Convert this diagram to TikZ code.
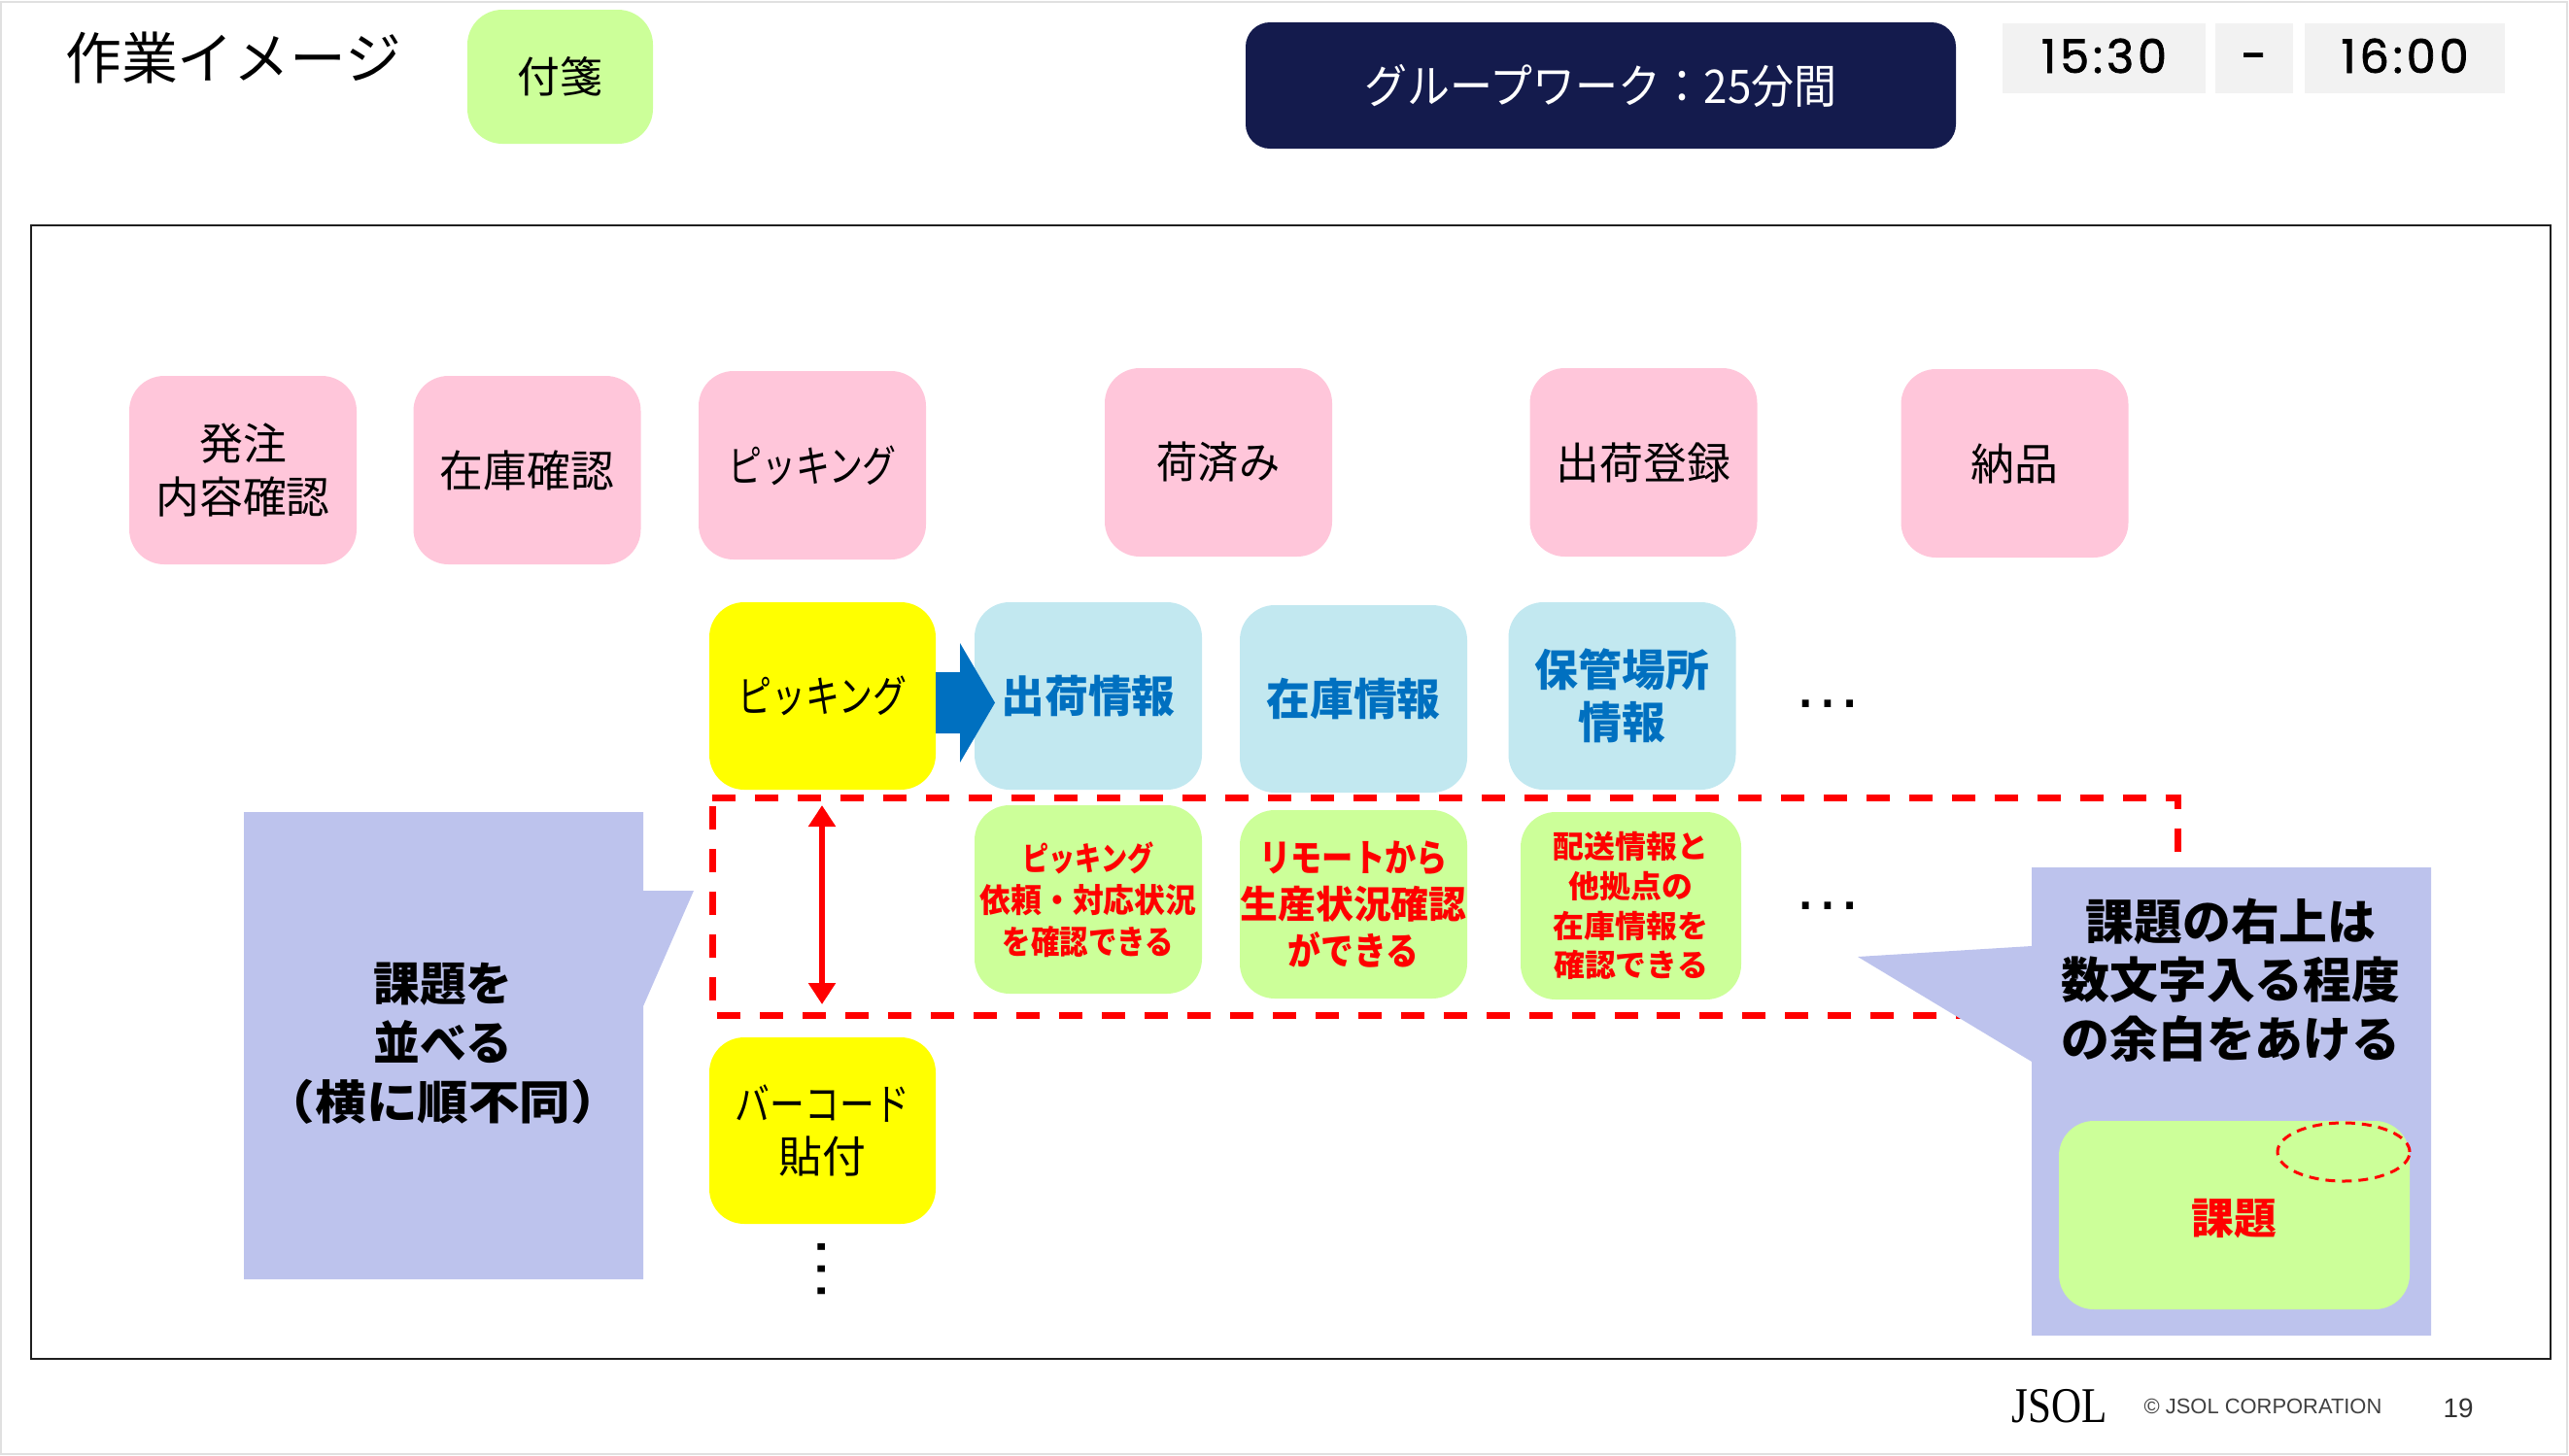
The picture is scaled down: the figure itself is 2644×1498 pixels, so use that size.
\documentclass[tikz,border=0pt]{standalone}
\usepackage{fontspec}
\setmainfont{Noto Sans CJK JP}
\newfontfamily\timefont[LetterSpace=8,FakeBold=1.6]{Poppins}
\newfontfamily\latinsans{Liberation Sans}
\newfontfamily\latinserif{Liberation Serif}
\usetikzlibrary{arrows.meta,shapes.geometric}
\newcommand\fs[2]{\fontsize{\the\dimexpr#1pt*56693/100000\relax}{\the\dimexpr#2pt*56693/100000\relax}\selectfont}
\newcommand\nar[2]{\scalebox{#1}[1]{#2}}
\definecolor{cpink}{HTML}{FFC6DA}
\definecolor{cyel}{HTML}{FFFF00}
\definecolor{cblue}{HTML}{C2E8F0}
\definecolor{cgreen}{HTML}{CCFF99}
\definecolor{cnavy}{HTML}{141B4D}
\definecolor{ctime}{HTML}{F2F2F2}
\definecolor{ccall}{HTML}{BDC3ED}
\definecolor{cdblue}{HTML}{0070C0}
\definecolor{cred}{HTML}{FF0000}
\tikzset{
  sz/.style 2 args={minimum width=#1*0.02cm,minimum height=#2*0.02cm,inner sep=0pt,outer sep=0pt,align=center},
  card/.style={rounded corners=0.72cm,text=black,font=\fs{45}{55}},
  pinkcard/.style={card,fill=cpink,sz={234}{194}},
  yelcard/.style={card,fill=cyel,sz={233}{193}},
  bluecard/.style={card,fill=cblue,sz={234}{193},text=cdblue,font=\fs{45}{54}\bfseries},
  greencard/.style={card,fill=cgreen,sz={234}{194},text=cred},
  timebox/.style={fill=ctime,sz={#1}{72},font=\timefont\fs{48}{50}},
  calltext/.style={inner sep=0pt,align=center,text=black,font=\fs{50}{61}\bfseries},
  dotsrow/.style={inner sep=0pt,text=black,font=\latinsans\fs{72}{72}},
  plain/.style={inner sep=0pt,align=center}
}
\begin{document}
\begin{tikzpicture}[x=0.02cm,y=-0.02cm]
\useasboundingbox (0,0) rectangle (2644,1498);
\draw[black!12,line width=0.05cm] (1,2) rectangle (2642,1497);
% header
\node[plain,text=black,font=\fs{58}{60}] (title) at (240,60) {作業イメージ};
\node[card,fill=cgreen,sz={191}{138}] (legend) at (576.5,79) {\fs{44}{50}付箋};
\node[fill=cnavy,rounded corners=0.5cm,sz={731}{130},text=white,font=\fs{48}{50}] (gw) at (1647.5,88) {\nar{0.92}{グループワーク：25分間}};
\node[timebox=209] (t1) at (2165.5,60) {\raisebox{0.2ex}{15:30}};
\node[timebox=80] (t2) at (2320,60) {\raisebox{-2.5pt}[\height][\depth]{-}};
\node[timebox=206] (t3) at (2475,60) {\raisebox{0.2ex}{16:00}};
% frame
\node[draw=black!88,line width=0.05cm,sz={2593}{1167}] (frame) at (1328.5,815.5) {};
% pink row
\node[pinkcard] (p1) at (250,484) {発注\\内容確認};
\node[pinkcard] (p2) at (542.5,484) {在庫確認};
\node[pinkcard] (p3) at (836,479) {\nar{0.78}{ピッキング}};
\node[pinkcard] (p4) at (1254,476) {\nar{0.94}{荷済み}};
\node[pinkcard] (p5) at (1691.5,476) {出荷登録};
\node[pinkcard] (p6) at (2073.5,477) {納品};
% second row
\node[yelcard] (y1) at (846.5,716.5) {\nar{0.78}{ピッキング}};
\node[bluecard] (b1) at (1120,716.5) {出荷情報};
\node[bluecard] (b2) at (1393,719.5) {在庫情報};
\node[bluecard] (b3) at (1669.5,716.5) {保管場所\\情報};
\node[dotsrow] (d1) at (1881,725) {…};
\fill[cdblue] (963,692) -- (988,692) -- (988,662) -- (1024,723.5) -- (988,785) -- (988,755) -- (963,755) -- cycle;
% dashed band
\draw[cred,line width=0.14cm,dash pattern=on 0.48cm off 0.40cm] (733,821) -- (2241,821) -- (2241,1045) -- (733,1045) -- cycle;
\coordinate (ra) at (846,829);
\coordinate (rb) at (846,1034);
\draw[cred,line width=0.13cm,{Triangle[width=0.54cm,length=0.44cm]}-{Triangle[width=0.54cm,length=0.44cm]}] (ra) -- (rb);
% green row
\node[greencard,font=\fs{34}{43}\bfseries] (g1) at (1120,926) {\nar{0.8}{ピッキング}\\\nar{0.94}{依頼・対応状況}\\\nar{0.87}{を確認できる}};
\node[greencard,font=\fs{39}{48}\bfseries] (g2) at (1393,931) {\nar{0.83}{リモートから}\\生産状況確認\\\nar{0.87}{ができる}};
\node[greencard,font=\fs{32}{41}\bfseries,sz={227}{193}] (g3) at (1678.5,932.5) {配送情報と\\他拠点の\\在庫情報を\\確認できる};
\node[dotsrow] (d2) at (1881,933) {…};
% yellow lower
\node[yelcard,sz={233}{192}] (y2) at (846.5,1164) {\nar{0.8}{バーコード}\\貼付};
\node[dotsrow,rotate=90] (d3) at (846,1307) {…};
% left callout
\fill[ccall] (251,836) -- (662,836) -- (662,917) -- (714,917) -- (662,1036) -- (662,1317) -- (251,1317) -- cycle;
\node[calltext,font=\fs{48}{61}\bfseries] (lt) at (456,1074) {課題を\\並べる\\\nar{1.1}{（横に順不同）}};
% right callout
\fill[ccall] (2091,893) -- (2502,893) -- (2502,1375) -- (2091,1375) -- (2091,1093) -- (1912,985) -- (2091,974) -- cycle;
\node[calltext] (rt) at (2296,1009) {課題の右上は\\数文字入る程度\\の余白をあける};
\node[greencard,sz={361}{194},font=\fs{44}{50}\bfseries] (g4) at (2299.5,1251) {\raisebox{-1.8pt}[\height][\depth]{課題}};
\node[ellipse,draw=cred,line width=0.06cm,dash pattern=on 0.2cm off 0.14cm,sz={136}{60}] (el) at (2412,1186) {};
% footer
\node[plain,text=black,font=\latinserif\fs{47}{50}] (logo) at (2120,1448) {\scalebox{0.92}[1.1]{JSOL}};
\node[plain,text=black!75,font=\latinsans\fs{22}{26}] (copy) at (2329,1448) {© JSOL CORPORATION};
\node[plain,text=black!80,font=\latinsans\fs{28}{30}] (pg) at (2530,1450) {19};
\end{tikzpicture}
\end{document}
